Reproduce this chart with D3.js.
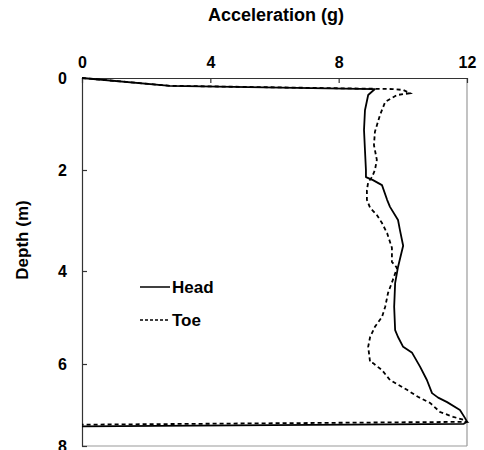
<!DOCTYPE html>
<html>
<head>
<meta charset="utf-8">
<script src="https://cdn.jsdelivr.net/npm/d3@7"></script>
<style>
  html, body { margin: 0; padding: 0; background: #fff; }
  svg { display: block; font-family: "Liberation Sans", Arial, sans-serif; }
</style>
</head>
<body>
<svg id="chart" width="484" height="450"></svg>
<script>
// Data: acceleration (g) vs depth (m)
const headAccel = [0, 2.74, 9.13, 8.92, 8.82, 8.79, 8.82, 8.85, 8.85, 9.07, 9.35, 9.51, 9.60, 9.85, 9.91, 10.01, 9.85, 9.76, 9.73, 9.76, 9.85, 10.01, 10.29, 10.54, 10.75, 10.91, 11.10, 11.38, 11.78, 11.94, 12.0, 11.9, 0];
const headDepth = [0, 0.17, 0.24, 0.37, 0.70, 1.13, 1.57, 2.00, 2.14, 2.20, 2.30, 2.59, 2.73, 2.99, 3.19, 3.50, 3.92, 4.26, 4.77, 5.27, 5.42, 5.63, 5.76, 6.07, 6.39, 6.71, 6.82, 6.93, 7.12, 7.32, 7.41, 7.46, 7.52];

const toeAccel = [0, 2.74, 9.69, 10.01, 10.22, 9.82, 9.45, 9.29, 9.13, 9.10, 9.19, 9.13, 9.04, 8.92, 8.88, 8.88, 8.98, 9.19, 9.35, 9.51, 9.66, 9.66, 9.82, 9.69, 9.54, 9.45, 9.35, 9.13, 8.98, 8.92, 8.98, 9.07, 9.35, 9.60, 10.13, 10.47, 10.85, 11.16, 11.57, 11.94, 12.0, 0];
const toeDepth = [0, 0.17, 0.24, 0.26, 0.33, 0.37, 0.52, 0.80, 1.17, 1.46, 1.78, 2.00, 2.14, 2.24, 2.40, 2.59, 2.75, 2.89, 3.05, 3.25, 3.54, 3.82, 3.94, 4.19, 4.47, 4.77, 4.99, 5.20, 5.42, 5.63, 5.96, 5.98, 6.15, 6.39, 6.63, 6.80, 6.95, 7.17, 7.29, 7.37, 7.41, 7.48];

const xTicks = [0, 4, 8, 12];
const yTicks = [0, 2, 4, 6, 8];
const seriesNames = ["Head", "Toe"];

const svg = d3.select("#chart");

const x = d3.scaleLinear().domain([0, 12]).range([82, 467]);
const y = d3.scaleLinear().domain([0, 2, 4, 6, 8]).range([78, 170, 271, 364, 446]);

// frame (right & bottom, gray)
svg.append("line").attr("x1", x(12)).attr("x2", x(12)).attr("y1", y(0)).attr("y2", y(8))
  .attr("stroke", "#9a9a9a").attr("stroke-width", 1.2);
svg.append("line").attr("x1", x(0)).attr("x2", x(12)).attr("y1", y(8)).attr("y2", y(8))
  .attr("stroke", "#9a9a9a").attr("stroke-width", 1.2);

// top axis
const xAxis = svg.append("g").attr("transform", `translate(0,${y(0)})`)
  .call(d3.axisTop(x).tickValues(xTicks).tickSizeInner(-5).tickSizeOuter(0).tickFormat(d3.format("d")));
xAxis.select(".domain").attr("stroke", "#333").attr("stroke-width", 1.2);
xAxis.selectAll(".tick line").attr("stroke", "#333").attr("stroke-width", 1.2);
xAxis.selectAll(".tick text").attr("y", -10).attr("font-size", 16).attr("font-weight", "bold")
  .attr("fill", "#000").attr("font-family", "Liberation Sans, Arial, sans-serif");

// left axis
const yAxis = svg.append("g").attr("transform", `translate(${x(0)},0)`)
  .call(d3.axisLeft(y).tickValues(yTicks).tickSizeInner(-5).tickSizeOuter(0).tickFormat(d3.format("d")));
yAxis.select(".domain").attr("stroke", "#333").attr("stroke-width", 1.2);
yAxis.selectAll(".tick line").attr("stroke", "#333").attr("stroke-width", 1.2);
yAxis.selectAll(".tick text").attr("x", -15).attr("font-size", 16).attr("font-weight", "bold")
  .attr("fill", "#000").attr("font-family", "Liberation Sans, Arial, sans-serif");

// titles
svg.append("text").attr("x", 276).attr("y", 21).attr("text-anchor", "middle")
  .attr("font-size", 18).attr("font-weight", "bold").text("Acceleration (g)");
svg.append("text").attr("transform", "translate(28,240) rotate(-90)").attr("text-anchor", "middle")
  .attr("font-size", 17).attr("font-weight", "bold").text("Depth (m)");

// lines
const line = d3.line().x(d => x(d[0])).y(d => y(d[1]));
const headData = headAccel.map((v, i) => [v, headDepth[i]]);
const toeData = toeAccel.map((v, i) => [v, toeDepth[i]]);

svg.append("path").datum(headData).attr("d", line).attr("fill", "none")
  .attr("stroke", "#000").attr("stroke-width", 1.8).attr("stroke-linejoin", "round");
svg.append("path").datum(toeData).attr("d", line).attr("fill", "none")
  .attr("stroke", "#000").attr("stroke-width", 1.8).attr("stroke-dasharray", "4,3");

// legend
const legend = svg.append("g");
seriesNames.forEach((name, i) => {
  const ly = 287 + i * 33;
  legend.append("line").attr("x1", 140).attr("x2", 170).attr("y1", ly).attr("y2", ly)
    .attr("stroke", "#000").attr("stroke-width", 1.5)
    .attr("stroke-dasharray", i === 1 ? "3,2" : null);
  legend.append("text").attr("x", 172).attr("y", ly + 6).attr("font-size", 17)
    .attr("font-weight", "bold").text(name);
});
</script>
</body>
</html>
